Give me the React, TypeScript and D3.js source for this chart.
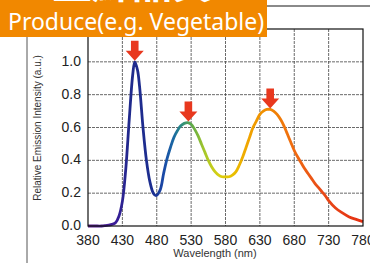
import React from "react";
import * as d3 from "d3";

// spectrum
const wavelengths = [
  380, 390, 400, 405, 410, 415, 420, 425, 430, 435, 440, 445, 448, 452, 455, 460, 465, 470, 475, 479,
  485, 490, 495, 500, 505, 510, 515, 520, 525, 530, 535, 540, 545, 550, 555, 560, 565, 570, 575, 580,
  585, 590, 595, 600, 605, 610, 615, 620, 625, 630, 635, 640, 645, 650, 655, 660, 665, 670, 675, 680,
  685, 690, 695, 700, 705, 710, 715, 720, 725, 730, 740, 750, 760, 770, 780,
];
const intensity = [
  0, 0, 0, 0.002, 0.005, 0.01, 0.02, 0.06, 0.15, 0.35, 0.65, 0.92, 1.0, 0.95, 0.85, 0.6, 0.4, 0.27, 0.2, 0.185,
  0.22, 0.32, 0.41, 0.48, 0.54, 0.58, 0.61, 0.625, 0.63, 0.62, 0.59, 0.55, 0.5, 0.45, 0.4, 0.36, 0.33, 0.31, 0.3, 0.3,
  0.3, 0.31, 0.33, 0.37, 0.42, 0.48, 0.54, 0.6, 0.64, 0.68, 0.7, 0.71, 0.71, 0.7, 0.68, 0.65, 0.61, 0.56, 0.51, 0.46,
  0.42, 0.385, 0.35, 0.32, 0.29, 0.26, 0.235, 0.21, 0.185, 0.155, 0.11, 0.08, 0.055, 0.04, 0.027,
];
const peakWavelengths = [448, 526, 645];
const peakValues = [1.0, 0.63, 0.71];

const xTicks = [380, 430, 480, 530, 580, 630, 680, 730, 780];
const yTicks = [0, 0.2, 0.4, 0.6, 0.8, 1.0];
const yGrid = [0.2, 0.4, 0.6, 0.8, 1.0];

const colorStops: [number, string][] = [
  [380, "#5a1a8c"], [420, "#3a1c98"], [440, "#202a8c"], [475, "#1c2e90"], [490, "#1a4aa8"],
  [505, "#1a6aa2"], [515, "#2a8a84"], [530, "#5aa84a"], [550, "#a8c82a"], [570, "#d8d012"],
  [590, "#e8c000"], [610, "#f0a800"], [640, "#f08a00"], [680, "#f06a10"], [720, "#e84a18"], [780, "#e63012"],
];

const W = 370, H = 263;
const m = { left: 88, right: 363, top: 29, bottom: 226 };

export default function App() {
  const x = d3.scaleLinear().domain([380, 780]).range([m.left, m.right]);
  const y = d3.scaleLinear().domain([0, 1.2]).range([m.bottom, m.top]);
  const pts = wavelengths.map((w, i) => [w, intensity[i]] as [number, number]);
  const line = d3.line<[number, number]>()
    .x(d => x(d[0]))
    .y(d => y(d[1]))
    .curve(d3.curveCatmullRom.alpha(0.5));

  const font = "'Liberation Sans', Arial, sans-serif";

  return (
    <svg width={W} height={H} style={{ position: "absolute", left: 0, top: 0 }}>
      <defs>
        <linearGradient id="spec" gradientUnits="userSpaceOnUse" x1={x(380)} x2={x(780)} y1={0} y2={0}>
          {colorStops.map(([w, c]) => (
            <stop key={w} offset={(w - 380) / 400} stopColor={c} />
          ))}
        </linearGradient>
      </defs>
      <rect width={W} height={H} fill="#fff" />

      {/* frame lines of the page */}
      <line x1={267} x2={370} y1={6} y2={6} stroke="#8a8a8a" strokeWidth={2} />
      <line x1={27} x2={27} y1={37} y2={263} stroke="#555" strokeWidth={1} />

      {/* grid */}
      {xTicks.slice(1, -1).map(t => (
        <line key={t} x1={x(t)} x2={x(t)} y1={m.top} y2={m.bottom} stroke="#444" strokeWidth={0.8} strokeDasharray="3,1" />
      ))}
      {yGrid.map(t => (
        <line key={t} x1={m.left} x2={m.right} y1={y(t)} y2={y(t)} stroke="#444" strokeWidth={0.8} strokeDasharray="3,1" />
      ))}

      <path d={line(pts) || ""} fill="none" stroke="url(#spec)" strokeWidth={2.8} strokeLinejoin="round" />

      {/* arrows */}
      {peakWavelengths.map((w, i) => {
        const tx = x(w), ty = y(peakValues[i]) - 1;
        const d = `M${tx},${ty} L${tx - 9},${ty - 10} L${tx - 3.8},${ty - 10} L${tx - 3.8},${ty - 20} L${tx + 3.8},${ty - 20} L${tx + 3.8},${ty - 10} L${tx + 9},${ty - 10} Z`;
        return <path key={w} d={d} fill="#e8381e" />;
      })}

      <rect x={m.left} y={m.top} width={m.right - m.left} height={m.bottom - m.top} fill="none" stroke="#111" strokeWidth={1.2} />

      {/* axis labels */}
      {xTicks.map(t => (
        <text key={t} x={x(t)} y={245} textAnchor="middle" fontFamily={font} fontSize={14} fill="#222">{t}</text>
      ))}
      {yTicks.map(t => (
        <text key={t} x={81} y={y(t) + 4} textAnchor="end" fontFamily={font} fontSize={14} fill="#222">{t.toFixed(1)}</text>
      ))}
      <text x={215} y={257} textAnchor="middle" fontFamily={font} fontSize={11} fill="#333">Wavelength (nm)</text>
      <text transform="translate(41,128) rotate(-90)" textAnchor="middle" fontFamily={font} fontSize={10} fill="#333">
        Relative Emission Intensity (a.u.)
      </text>

      {/* banner */}
      <rect x={0} y={0} width={267} height={37} fill="#f18800" />
      <text x={52} y={-2} fontFamily="'Noto Sans CJK JP', sans-serif" fontWeight="bold" fontSize={40} fill="#fff">生鮮品質</text>
      <text x={8} y={30} fontFamily="'Noto Sans', sans-serif" fontSize={23} fill="#fff">Produce(e.g. Vegetable)</text>
    </svg>
  );
}
